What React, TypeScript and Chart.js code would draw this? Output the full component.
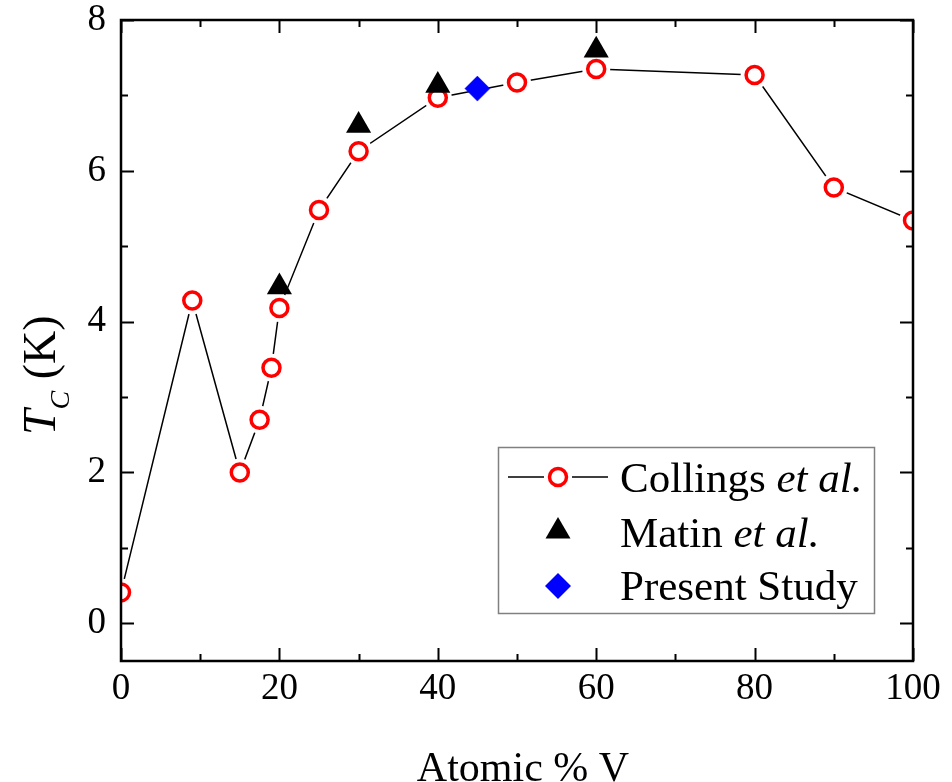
import React, { useEffect, useRef } from 'react';
import { Chart, registerables } from 'chart.js';

Chart.register(...registerables);

// ---- data ----
const collingsX = [0, 9, 15, 17.5, 19, 20, 25, 30, 40, 50, 60, 80, 90, 100];
const collingsY = [0.41, 4.28, 2.0, 2.7, 3.39, 4.18, 5.48, 6.26, 6.97, 7.17, 7.35, 7.27, 5.78, 5.34];
const matinX = [20, 30, 40, 60];
const matinY = [4.46, 6.6, 7.13, 7.6];
const presentX = [45];
const presentY = [7.09];

const xTickValues = [0, 20, 40, 60, 80, 100];
const xMinorTicks = [10, 30, 50, 70, 90];
const yTickValues = [0, 2, 4, 6, 8];
const yMinorTicks = [1, 3, 5, 7];

const xTitle = 'Atomic % V';
const yTitleMain = 'T';
const yTitleSub = 'C';
const yTitleUnit = ' (K)';
const legendNames = ['Collings', 'Matin', 'Present Study'];
const legendItalic = ['et al.', 'et al.', ''];

const SERIF = '"Liberation Serif", "Times New Roman", serif';

const pts = (xs: number[], ys: number[]) => xs.map((x, i) => ({ x, y: ys[i] }));

const fixAxis = (w: number | null, h: number | null) => (s: any) => {
  if (w !== null) s.width = w;
  if (h !== null) s.height = h;
  s.paddingLeft = 0;
  s.paddingRight = 0;
  s.paddingTop = 0;
  s.paddingBottom = 0;
};

const decorPlugin = {
  id: 'decor',
  afterDraw(chart: any) {
    const ctx: CanvasRenderingContext2D = chart.ctx;
    const ca = chart.chartArea;
    const xs = chart.scales.x;
    const ys = chart.scales.y;
    ctx.save();
    ctx.strokeStyle = '#000';
    ctx.fillStyle = '#000';

    // ticks (inward, all four sides)
    ctx.lineWidth = 2;
    const majorLen = 13;
    const minorLen = 7;
    ctx.beginPath();
    const xTick = (v: number, len: number) => {
      const px = Math.round(xs.getPixelForValue(v)) + 0.5;
      ctx.moveTo(px, ca.bottom);
      ctx.lineTo(px, ca.bottom - len);
      ctx.moveTo(px, ca.top);
      ctx.lineTo(px, ca.top + len);
    };
    const yTick = (v: number, len: number) => {
      const py = Math.round(ys.getPixelForValue(v)) + 0.5;
      ctx.moveTo(ca.left, py);
      ctx.lineTo(ca.left + len, py);
      ctx.moveTo(ca.right, py);
      ctx.lineTo(ca.right - len, py);
    };
    xTickValues.forEach((v) => xTick(v, majorLen));
    xMinorTicks.forEach((v) => xTick(v, minorLen));
    yTickValues.forEach((v) => yTick(v, majorLen));
    yMinorTicks.forEach((v) => yTick(v, minorLen));
    ctx.stroke();

    // frame
    ctx.lineWidth = 2.5;
    ctx.strokeRect(ca.left, ca.top, ca.right - ca.left, ca.bottom - ca.top);

    // x title
    ctx.font = `42px ${SERIF}`;
    ctx.textAlign = 'center';
    ctx.textBaseline = 'alphabetic';
    ctx.fillText(xTitle, (ca.left + ca.right) / 2 + 6, 781);

    // y title (rotated, with subscript)
    ctx.save();
    ctx.translate(55, 435);
    ctx.rotate(-Math.PI / 2);
    ctx.textAlign = 'left';
    let cx = 0;
    ctx.font = `italic 46px ${SERIF}`;
    ctx.fillText(yTitleMain, cx, 0);
    cx += ctx.measureText(yTitleMain).width;
    ctx.font = `italic 28px ${SERIF}`;
    ctx.fillText(yTitleSub, cx, 14);
    cx += ctx.measureText(yTitleSub).width;
    ctx.font = `46px ${SERIF}`;
    ctx.fillText(yTitleUnit, cx, 0);
    ctx.restore();

    // legend
    const bx = ca.left + 377;
    const by = ca.top + 427;
    const bw = 376;
    const bh = 166;
    ctx.fillStyle = '#fff';
    ctx.fillRect(bx, by, bw, bh);
    ctx.strokeStyle = '#808080';
    ctx.lineWidth = 1.5;
    ctx.strokeRect(bx + 0.5, by + 0.5, bw, bh);

    const symX = bx + 60;
    const rowsY = [by + 30, by + 83, by + 139];
    const baseY = [by + 45, by + 100, by + 153];

    // Collings: line - circle - line
    ctx.strokeStyle = '#000';
    ctx.lineWidth = 1.5;
    ctx.beginPath();
    ctx.moveTo(bx + 10, rowsY[0]);
    ctx.lineTo(symX - 14, rowsY[0]);
    ctx.moveTo(symX + 14, rowsY[0]);
    ctx.lineTo(bx + 110, rowsY[0]);
    ctx.stroke();
    ctx.beginPath();
    ctx.arc(symX, rowsY[0], 8.5, 0, Math.PI * 2);
    ctx.fillStyle = '#fff';
    ctx.fill();
    ctx.strokeStyle = '#ff0000';
    ctx.lineWidth = 3.5;
    ctx.stroke();

    // Matin: triangle
    ctx.fillStyle = '#000';
    ctx.beginPath();
    ctx.moveTo(symX, rowsY[1] - 13);
    ctx.lineTo(symX + 12.5, rowsY[1] + 8.5);
    ctx.lineTo(symX - 12.5, rowsY[1] + 8.5);
    ctx.closePath();
    ctx.fill();

    // Present: diamond
    ctx.fillStyle = '#0000ff';
    ctx.beginPath();
    ctx.moveTo(symX, rowsY[2] - 13);
    ctx.lineTo(symX + 13, rowsY[2]);
    ctx.lineTo(symX, rowsY[2] + 13);
    ctx.lineTo(symX - 13, rowsY[2]);
    ctx.closePath();
    ctx.fill();

    // legend texts
    ctx.fillStyle = '#000';
    ctx.textAlign = 'left';
    ctx.textBaseline = 'alphabetic';
    legendNames.forEach((name, i) => {
      let tx = bx + 122;
      ctx.font = `43px ${SERIF}`;
      ctx.fillText(name, tx, baseY[i]);
      if (legendItalic[i]) {
        tx += ctx.measureText(name + ' ').width;
        ctx.font = `italic 43px ${SERIF}`;
        ctx.fillText(legendItalic[i], tx, baseY[i]);
      }
    });

    ctx.restore();
  },
};

export default function App() {
  const ref = useRef<HTMLCanvasElement>(null);

  useEffect(() => {
    const canvas = ref.current;
    if (!canvas) return;
    const collings = pts(collingsX, collingsY);
    const chart = new Chart(canvas, {
      type: 'scatter',
      data: {
        datasets: [
          {
            label: 'Present Study',
            data: pts(presentX, presentY),
            pointStyle: 'rectRot',
            pointRadius: 12.5,
            pointBackgroundColor: '#0000ff',
            pointBorderColor: '#0000ff',
            pointBorderWidth: 0.5,
            showLine: false,
            clip: 0,
            order: 1,
          },
          {
            label: 'Matin et al.',
            data: pts(matinX, matinY),
            pointStyle: 'triangle',
            pointRadius: 14.5,
            pointBackgroundColor: '#000',
            pointBorderColor: '#000',
            pointBorderWidth: 0,
            showLine: false,
            clip: 0,
            order: 2,
          },
          {
            label: 'Collings et al.',
            data: collings,
            pointStyle: 'circle',
            pointRadius: 8.5,
            pointBackgroundColor: '#fff',
            pointBorderColor: '#ff0000',
            pointBorderWidth: 3.5,
            showLine: false,
            clip: 0,
            order: 3,
          },
          {
            label: 'halo',
            data: collings,
            pointStyle: 'circle',
            pointRadius: 14,
            pointBackgroundColor: '#fff',
            pointBorderColor: '#fff',
            pointBorderWidth: 0,
            showLine: false,
            clip: 0,
            order: 4,
          },
          {
            label: 'Collings line',
            data: collings,
            pointRadius: 0,
            borderColor: '#000',
            borderWidth: 1.5,
            showLine: true,
            fill: false,
            tension: 0,
            clip: 0,
            order: 5,
          },
        ],
      },
      options: {
        animation: false,
        responsive: false,
        devicePixelRatio: 1,
        events: [],
        layout: { padding: { left: 0, top: 20, right: 39, bottom: 0 } },
        plugins: {
          legend: { display: false },
          tooltip: { enabled: false },
          title: { display: false },
        },
        scales: {
          x: {
            type: 'linear',
            position: 'bottom',
            min: 0,
            max: 100,
            afterBuildTicks: (s: any) => {
              s.ticks = xTickValues.map((v) => ({ value: v }));
            },
            afterFit: fixAxis(null, 121),
            ticks: {
              color: '#000',
              font: { family: SERIF, size: 37 },
              padding: 6,
              maxRotation: 0,
              autoSkip: false,
            },
            grid: { display: false, drawTicks: false },
            border: { display: false },
          },
          y: {
            type: 'linear',
            position: 'left',
            min: -0.5,
            max: 8,
            afterBuildTicks: (s: any) => {
              s.ticks = yTickValues.map((v) => ({ value: v }));
            },
            afterFit: fixAxis(121, null),
            ticks: {
              color: '#000',
              font: { family: SERIF, size: 37 },
              padding: 15,
              autoSkip: false,
            },
            grid: { display: false, drawTicks: false },
            border: { display: false },
          },
        },
      },
      plugins: [decorPlugin],
    } as any);
    return () => chart.destroy();
  }, []);

  return (
    <div style={{ position: 'absolute', left: 0, top: 0, width: 952, height: 782, background: '#fff' }}>
      <canvas ref={ref} width={952} height={782} style={{ display: 'block', width: 952, height: 782 }} />
    </div>
  );
}
